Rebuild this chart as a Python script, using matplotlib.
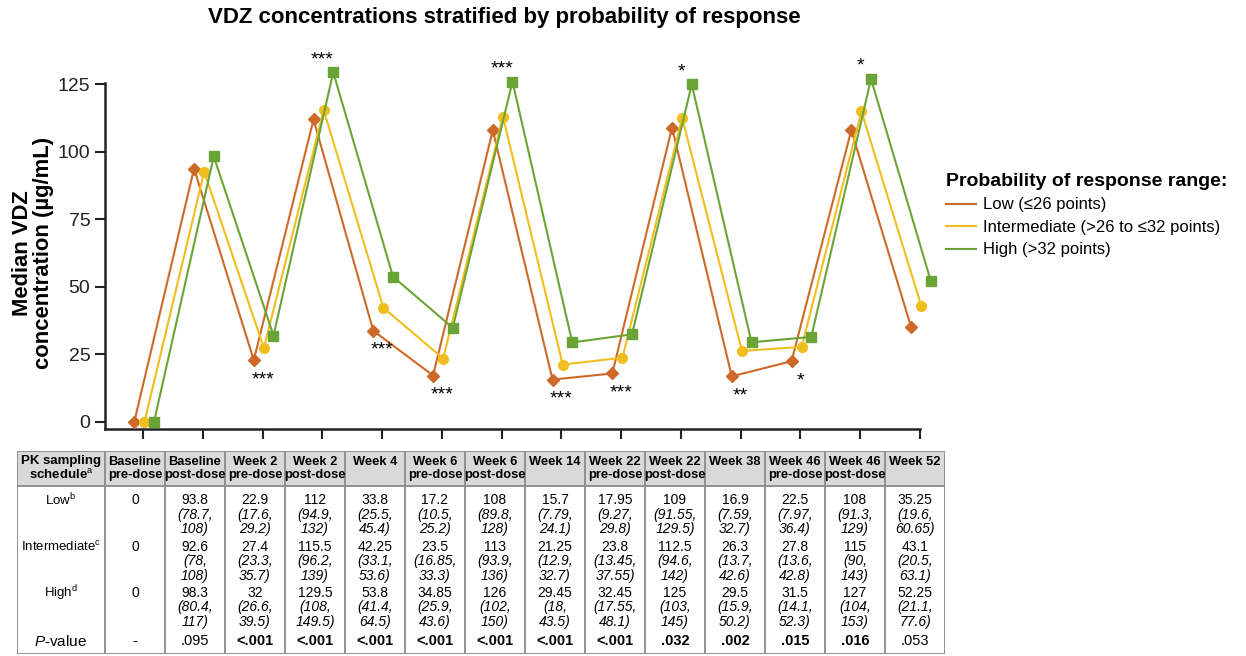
import matplotlib.pyplot as plt
from matplotlib.lines import Line2D
from matplotlib.patches import Rectangle

plt.rcParams['font.family'] = ['Liberation Sans', 'DejaVu Sans']
plt.rcParams['mathtext.fontset'] = 'custom'
plt.rcParams['mathtext.rm'] = 'Liberation Sans'
plt.rcParams['mathtext.it'] = 'Liberation Sans:italic'
plt.rcParams['mathtext.bf'] = 'Liberation Sans:bold'

# sampling timepoints (table header)
timepoints = ['Baseline\npre-dose', 'Baseline\npost-dose', 'Week 2\npre-dose', 'Week 2\npost-dose',
              'Week 4', 'Week 6\npre-dose', 'Week 6\npost-dose', 'Week 14', 'Week 22\npre-dose',
              'Week 22\npost-dose', 'Week 38', 'Week 46\npre-dose', 'Week 46\npost-dose', 'Week 52']

# medians
low = [0, 93.8, 22.9, 112, 33.8, 17.2, 108, 15.7, 17.95, 109, 16.9, 22.5, 108, 35.25]
intermediate = [0, 92.6, 27.4, 115.5, 42.25, 23.5, 113, 21.25, 23.8, 112.5, 26.3, 27.8, 115, 43.1]
high = [0, 98.3, 32, 129.5, 53.8, 34.85, 126, 29.45, 32.45, 125, 29.5, 31.5, 127, 52.25]

# interquartile ranges shown in the table
low_iqr = [None, ('78.7', '108'), ('17.6', '29.2'), ('94.9', '132'), ('25.5', '45.4'), ('10.5', '25.2'),
           ('89.8', '128'), ('7.79', '24.1'), ('9.27', '29.8'), ('91.55', '129.5'), ('7.59', '32.7'),
           ('7.97', '36.4'), ('91.3', '129'), ('19.6', '60.65')]
int_iqr = [None, ('78', '108'), ('23.3', '35.7'), ('96.2', '139'), ('33.1', '53.6'), ('16.85', '33.3'),
           ('93.9', '136'), ('12.9', '32.7'), ('13.45', '37.55'), ('94.6', '142'), ('13.7', '42.6'),
           ('13.6', '42.8'), ('90', '143'), ('20.5', '63.1')]
high_iqr = [None, ('80.4', '117'), ('26.6', '39.5'), ('108', '149.5'), ('41.4', '64.5'), ('25.9', '43.6'),
            ('102', '150'), ('18', '43.5'), ('17.55', '48.1'), ('103', '145'), ('15.9', '50.2'),
            ('14.1', '52.3'), ('104', '153'), ('21.1', '77.6')]

p_values = ['-', '.095', '<.001', '<.001', '<.001', '<.001', '<.001', '<.001', '<.001', '.032', '.002',
            '.015', '.016', '.053']
p_bold = [False, False, True, True, True, True, True, True, True, True, True, True, True, False]

# significance stars: (timepoint index, stars, side)
stars = [(2, '***', 'below'), (3, '***', 'above'), (4, '***', 'below'), (5, '***', 'below'),
         (6, '***', 'above'), (7, '***', 'below'), (8, '***', 'below'), (9, '*', 'above'),
         (10, '**', 'below'), (11, '*', 'below'), (12, '*', 'above')]

series = [
    ('Low (≤26 points)', low, '#CD6A2A', 'D', 6.0, -0.15),
    ('Intermediate (>26 to ≤32 points)', intermediate, '#F1BE1F', 'o', 7.0, 0.02),
    ('High (>32 points)', high, '#6AA437', 's', 6.5, 0.18),
]

fig = plt.figure(figsize=(12.46, 6.56), dpi=100)
ax = fig.add_axes([105 / 1246, 1 - 429 / 656, 815 / 1246, 346 / 656])

x = list(range(len(timepoints)))
for name, vals, col, mk, ms, off in series:
    ax.plot([i + off for i in x], vals, color=col, marker=mk, markersize=ms, lw=1.5,
            clip_on=False, zorder=3)

for i, s, side in stars:
    vals = [low[i], intermediate[i], high[i]]
    if side == 'above':
        ax.annotate(s, (i, max(vals)), xytext=(0, 3), textcoords='offset points',
                    ha='center', va='bottom', fontsize=14, annotation_clip=False)
    else:
        ax.annotate(s, (i, min(vals)), xytext=(0, -8), textcoords='offset points',
                    ha='center', va='top', fontsize=14, annotation_clip=False)

ax.set_xlim(-0.64, 12.97)
ax.set_ylim(-2.6, 125.5)
ax.set_yticks([0, 25, 50, 75, 100, 125])
ax.set_xticks(x)
ax.set_xticklabels([])
ax.tick_params(axis='y', labelsize=14, length=7, width=1.5, colors='#222222')
ax.tick_params(axis='x', length=7, width=1.5, colors='#222222')
for sp in ['top', 'right']:
    ax.spines[sp].set_visible(False)
for sp in ['left', 'bottom']:
    ax.spines[sp].set_linewidth(1.8)
    ax.spines[sp].set_color('#222222')

fig.text(33 / 1246, 1 - 253 / 656, 'Median VDZ\nconcentration (µg/mL)', rotation=90,
         ha='center', va='center', fontsize=15.8, fontweight='bold', multialignment='center',
         linespacing=1.05)
fig.text(504 / 1246, 1 - 17 / 656, 'VDZ concentrations stratified by probability of response',
         ha='center', va='center', fontsize=16, fontweight='bold')

handles = [Line2D([], [], color=c, lw=1.5) for _, _, c, _, _, _ in series]
leg = fig.legend(handles, [s[0] for s in series], loc='upper left',
                 bbox_to_anchor=(931 / 1246, 1 - 158 / 656), frameon=False, fontsize=12,
                 title='Probability of response range:', handlelength=1.8, handletextpad=0.4,
                 labelspacing=0.45, alignment='left')
leg.get_title().set_fontweight('bold')
leg.get_title().set_fontsize(14)

# table below the chart
tx0, tx1, ty0, ty1 = 17, 945, 451, 654
tab = fig.add_axes([tx0 / 1246, 1 - ty1 / 656, (tx1 - tx0) / 1246, (ty1 - ty0) / 656])
tab.set_xlim(0, tx1 - tx0)
tab.set_ylim(ty1 - ty0, 0)
tab.axis('off')
first_w = 88
col_w = (tx1 - tx0 - first_w) / len(timepoints)
head_h = 35
grid = '#8a8a8a'

tab.add_patch(Rectangle((0, 0), tx1 - tx0, head_h, facecolor='#d9d9d9', edgecolor='none'))
tab.add_patch(Rectangle((0, 0), tx1 - tx0, ty1 - ty0, facecolor='none', edgecolor=grid, lw=1.3))
tab.plot([0, tx1 - tx0], [head_h, head_h], color=grid, lw=1.3)
for j in range(len(timepoints)):
    xb = first_w + j * col_w
    tab.plot([xb, xb], [0, ty1 - ty0], color=grid, lw=1.3)

tab.text(first_w / 2, head_h / 2, 'PK sampling\nschedule$^{\\mathrm{a}}$', ha='center', va='center',
         fontsize=9.5, fontweight='bold', linespacing=1.05)
for j, t in enumerate(timepoints):
    tab.text(first_w + (j + 0.5) * col_w, head_h / 2 if '\n' in t else 11, t, ha='center',
             va='center', fontsize=9.3, fontweight='bold', linespacing=1.05)

row_names = ['Low$^{\\mathrm{b}}$', 'Intermediate$^{\\mathrm{c}}$', 'High$^{\\mathrm{d}}$']
row_vals = [low, intermediate, high]
row_iqr = [low_iqr, int_iqr, high_iqr]
row_top = [49, 96, 142]
for r in range(3):
    y0 = row_top[r]
    tab.text(first_w / 2, y0, row_names[r], ha='center', va='center', fontsize=9.5)
    for j in range(len(timepoints)):
        cx = first_w + (j + 0.5) * col_w
        v = row_vals[r][j]
        tab.text(cx, y0, f'{v:g}', ha='center', va='center', fontsize=10)
        if row_iqr[r][j] is not None:
            lo, hi = row_iqr[r][j]
            tab.text(cx, y0 + 14.5, f'({lo},', ha='center', va='center', fontsize=10, style='italic')
            tab.text(cx, y0 + 29, f'{hi})', ha='center', va='center', fontsize=10, style='italic')

tab.text(first_w / 2, 190, '$\\mathit{P}$-value', ha='center', va='center', fontsize=11)
for j, p in enumerate(p_values):
    tab.text(first_w + (j + 0.5) * col_w, 190, p, ha='center', va='center', fontsize=10.5,
             fontweight='bold' if p_bold[j] else 'normal')

fig.savefig('out.png', dpi=100)
